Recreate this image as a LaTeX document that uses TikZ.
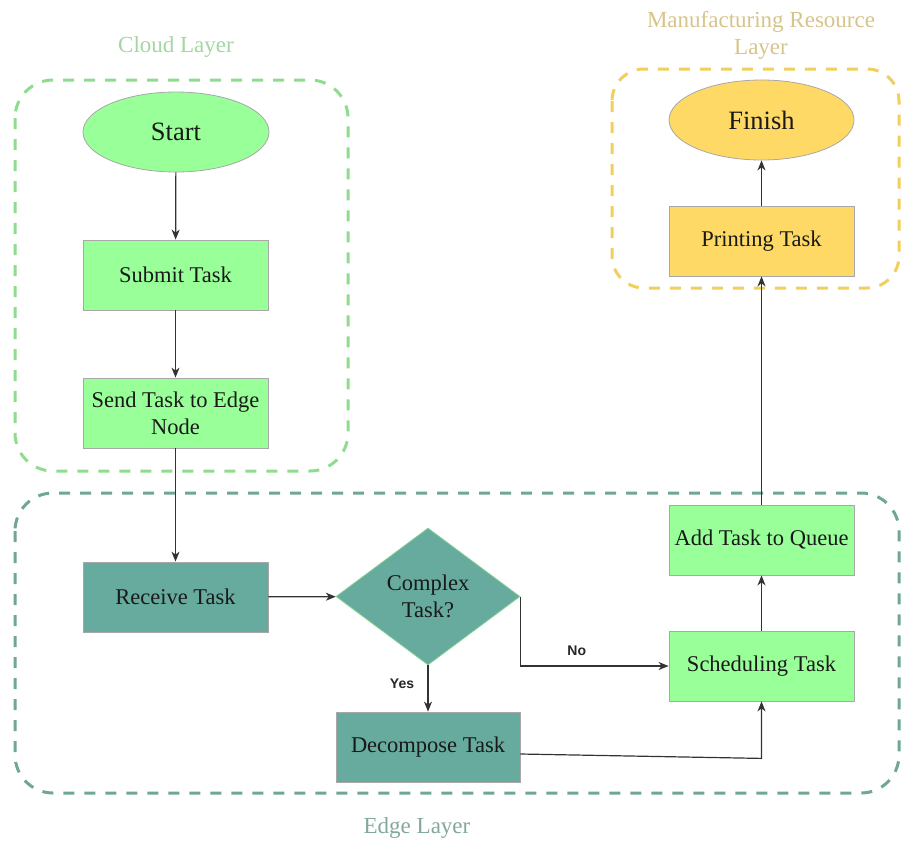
\documentclass[tikz,border=0pt]{standalone}
\usepackage{fontspec}
\setmainfont{Liberation Serif}
\newfontfamily\labelsans{Liberation Sans}
\usetikzlibrary{shapes.geometric,arrows.meta,calc}

\definecolor{cloudfill}{HTML}{99FF99}
\definecolor{cloudline}{HTML}{8FDC8F}
\definecolor{cloudtext}{HTML}{A3D6A3}
\definecolor{edgefill}{HTML}{67AB9F}
\definecolor{edgeline}{HTML}{6FA698}
\definecolor{edgetext}{HTML}{82A89D}
\definecolor{mfgfill}{HTML}{FFD966}
\definecolor{mfgline}{HTML}{F0CF5C}
\definecolor{mfgtext}{HTML}{D7C48A}
\definecolor{nodeline}{HTML}{A8A8A8}
\definecolor{wire}{HTML}{333333}

\tikzset{
  boxtext/.style={font=\fontsize{22.5}{27}\selectfont, align=center, text=black!90},
  taskbox/.style={boxtext, rectangle, draw=nodeline, line width=0.8pt,
                  minimum width=185pt, minimum height=70pt, inner sep=0pt},
  terminal/.style={ellipse, draw=nodeline, line width=0.8pt, inner sep=0pt,
                   font=\fontsize{26.5}{30}\selectfont, text=black!90,
                   minimum width=186pt, minimum height=80pt},
  decision/.style={boxtext, diamond, draw=cloudline!80!edgefill, line width=0.8pt, inner sep=0pt,
                   minimum width=184pt, minimum height=137pt},
  layer/.style={dashed, line width=3pt, dash pattern=on 11pt off 10pt, rounded corners=38pt},
  layerlabel/.style={font=\fontsize{23}{27}\selectfont, align=center},
  flow/.style={draw=wire, line width=1.2pt,
               -{Stealth[length=10pt,width=8pt,inset=3pt]}},
  branch/.style={font=\labelsans\bfseries\fontsize{14}{16}\selectfont, text=black!85},
}

\begin{document}
\begin{tikzpicture}[x=1pt,y=-1pt]
  \useasboundingbox (0,0) rectangle (901,841);

  % layer frames
  \draw[layer, draw=cloudline] (15,80) rectangle (348,471);
  \draw[layer, draw=edgeline] (15,493) rectangle (899,793);
  \draw[layer, draw=mfgline, rounded corners=32pt] (612,69) rectangle (899,288);

  % layer titles
  \node[layerlabel, text=cloudtext] (cloudlabel) at (176,47) {Cloud Layer};
  \node[layerlabel, text=mfgtext] (mfglabel) at (761,35.5) {Manufacturing Resource\\Layer};
  \node[layerlabel, text=edgetext] (edgelabel) at (417,828) {Edge Layer};

  % cloud layer
  \node[terminal, fill=cloudfill] (start) at (176,132) {Start};
  \node[taskbox, fill=cloudfill] (submit) at (175.5,275) {Submit Task};
  \node[taskbox, fill=cloudfill] (send) at (175.5,413) {Send Task to Edge\\Node};

  % edge layer
  \node[taskbox, fill=edgefill] (receive) at (175.5,597) {Receive Task};
  \node[decision, fill=edgefill] (complex) at (428,596.5) {Complex\\Task?};
  \node[taskbox, fill=edgefill, minimum width=184pt] (decompose) at (428,747) {Decompose Task};
  \node[taskbox, fill=cloudfill] (sched) at (761.5,666) {Scheduling Task};
  \node[taskbox, fill=cloudfill] (queue) at (761.5,540) {Add Task to Queue};

  % manufacturing resource layer
  \node[taskbox, fill=mfgfill] (print) at (761.5,241) {Printing Task};
  \node[terminal, fill=mfgfill, minimum width=185pt] (finish) at (761.5,120) {Finish};

  % connectors
  \draw[flow] (start) -- (submit);
  \draw[flow] (submit) -- (send);
  \draw[flow] (send) -- (receive);
  \draw[flow] (receive) -- (complex);
  \draw[flow] (complex.east) |- (sched.west)
    node[branch, pos=0.69, above=6pt] {No};
  \draw[flow] (complex.south) -- (decompose.north)
    node[branch, midway, left=10pt, yshift=5pt] {Yes};
  \draw[flow] ($(decompose.east)+(0,7)$) -- ($(sched.south)+(0,57)$) -- (sched.south);
  \draw[flow] (sched) -- (queue);
  \draw[flow] (queue) -- (print);
  \draw[flow] (print) -- (finish);
\end{tikzpicture}
\end{document}
